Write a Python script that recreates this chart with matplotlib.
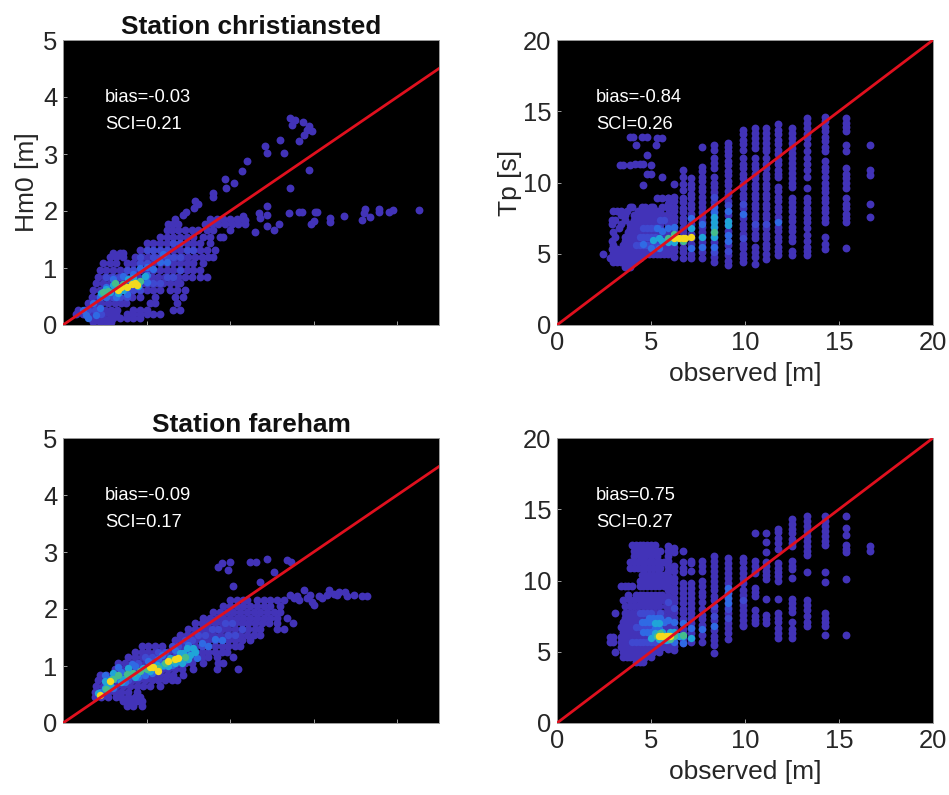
import matplotlib
matplotlib.use("Agg")
import matplotlib.pyplot as plt

plt.rcParams['font.family'] = ['Liberation Sans', 'DejaVu Sans']

BASE = '#4233b8'
MID = '#3f48d0'
BLUE = '#2f6ae4'
CYAN = '#1fa5d8'
GREEN = '#45bd8c'
YELLOW = '#f4d91e'

# --- Hm0 christiansted: rows of points (y, list of x)
hs1_rows_y = [0.06, 0.12, 0.19, 0.26, 0.38, 0.50, 0.61, 0.73, 0.85, 0.96, 1.08, 1.20, 1.27, 1.32, 1.43, 1.55, 1.67, 1.78, 1.86]
hs1_rows_x = [
    [0.36, 0.44, 0.52, 0.58],
    [0.32, 0.40, 0.48, 0.56, 0.60, 0.68, 0.76, 0.84, 0.92],
    [0.16, 0.24, 0.32, 0.40, 0.48, 0.56, 0.64, 0.76, 0.84, 0.92, 1.00, 1.08, 1.16],
    [0.18, 0.26, 0.34, 0.42, 0.50, 0.58, 0.65, 0.84, 0.92, 1.00, 1.32, 1.40],
    [0.30, 0.38, 0.46, 0.54, 0.62, 0.70, 0.75, 1.04, 1.10, 1.36],
    [0.35, 0.43, 0.51, 0.59, 0.67, 0.75, 0.83, 0.92, 1.10, 1.34, 1.44],
    [0.36, 0.44, 0.52, 0.60, 0.68, 0.76, 0.84, 0.92, 1.00, 1.08, 1.16, 1.28, 1.36, 1.46],
    [0.40, 0.48, 0.56, 0.64, 0.72, 0.80, 0.88, 0.96, 1.04, 1.12, 1.20, 1.28, 1.36, 1.40],
    [0.42, 0.50, 0.58, 0.66, 0.74, 0.82, 0.90, 0.98, 1.06, 1.14, 1.22, 1.30, 1.38, 1.46, 1.54, 1.64, 1.72],
    [0.44, 0.52, 0.60, 0.68, 0.76, 0.84, 0.92, 1.00, 1.08, 1.16, 1.24, 1.32, 1.40, 1.48, 1.56, 1.64],
    [0.48, 0.56, 0.64, 0.76, 0.84, 0.92, 1.00, 1.08, 1.16, 1.24, 1.32, 1.40, 1.48, 1.56, 1.68],
    [0.56, 0.64, 0.72, 0.86, 0.94, 1.02, 1.10, 1.18, 1.26, 1.34, 1.42, 1.50, 1.58, 1.66, 1.74, 1.80],
    [0.60, 0.68, 0.72],
    [0.92, 1.00, 1.08, 1.16, 1.24, 1.32, 1.40, 1.48, 1.56, 1.64, 1.72, 1.82],
    [1.00, 1.08, 1.16, 1.24, 1.32, 1.40, 1.48, 1.56, 1.64, 1.76],
    [1.16, 1.24, 1.32, 1.40, 1.48, 1.56, 1.68, 1.76, 1.88, 1.92],
    [1.24, 1.30, 1.38, 1.46, 1.54, 1.62, 1.72, 1.80, 2.00],
    [1.26, 1.32, 1.38, 1.70, 1.78, 1.86, 1.94, 2.02, 2.10, 2.18],
    [1.34, 1.76, 1.84, 1.92, 2.00, 2.08, 2.16],
]
hs1_scatter_x = [2.72, 2.78, 2.87, 2.94, 2.92, 2.98, 2.88, 2.74, 2.82, 2.60, 2.42, 2.44, 2.65, 2.20, 2.14, 2.94, 1.94, 2.05, 1.95, 2.72, 1.80, 1.80, 1.58, 1.62, 1.57, 1.47, 1.44,
                 4.26, 3.95, 3.90, 3.78, 3.78, 3.61, 3.60, 3.68, 3.58, 3.36, 3.20, 3.20, 3.04, 3.02, 3.00, 2.97, 2.86, 2.83, 2.70, 2.44, 2.44, 2.34, 2.36, 2.44, 2.58, 2.52, 2.30, 2.16, 2.18]
hs1_scatter_y = [3.63, 3.60, 3.57, 3.49, 3.42, 3.40, 3.33, 3.51, 3.22, 3.24, 3.14, 3.01, 3.01, 2.87, 2.71, 2.72, 2.57, 2.49, 2.41, 2.40, 2.32, 2.25, 2.18, 2.12, 2.05, 1.98, 1.93,
                 2.01, 2.01, 1.98, 2.03, 1.98, 2.03, 1.96, 1.90, 1.84, 1.92, 1.88, 1.80, 1.99, 1.98, 1.82, 1.78, 1.98, 1.98, 1.96, 2.09, 1.93, 1.96, 1.87, 1.73, 1.77, 1.66, 1.63, 1.91, 1.84]
hs1_mid_x = [0.44, 0.52, 0.60, 0.68, 0.76, 0.84, 0.92, 1.00, 1.08, 1.16, 1.24, 1.32, 1.40, 0.52, 0.60, 0.68, 0.76, 0.84, 0.92, 1.00, 1.08, 1.16, 1.24, 1.32, 1.40, 1.48, 1.56, 0.92, 1.00, 1.08, 1.16, 1.24, 1.32, 1.40, 0.30, 0.38, 0.46]
hs1_mid_y = [0.50, 0.50, 0.50, 0.50, 0.50, 0.61, 0.61, 0.73, 0.73, 0.73, 0.85, 0.85, 0.96, 0.85, 0.85, 0.85, 0.96, 0.96, 1.08, 1.08, 1.20, 1.20, 1.20, 1.20, 1.20, 1.32, 1.32, 1.20, 1.32, 1.32, 1.32, 1.32, 1.43, 1.43, 0.26, 0.26, 0.19]
hs1_blue_x = [0.30, 0.36, 0.44, 0.44, 0.52, 0.60, 0.64, 0.72, 0.76, 0.84, 0.92, 1.00, 1.00, 1.08, 1.16, 1.24, 0.40, 0.28, 0.24, 0.52, 0.92, 1.00, 1.20]
hs1_blue_y = [0.12, 0.38, 0.30, 0.50, 0.50, 0.80, 0.50, 0.86, 0.55, 0.90, 0.78, 0.88, 1.02, 0.98, 1.10, 1.10, 0.18, 0.18, 0.26, 0.66, 1.00, 0.75, 1.25]
hs1_cyan_x = [0.46, 0.52, 0.56, 0.60, 0.66, 0.72, 0.78, 0.84, 0.90, 0.98]
hs1_cyan_y = [0.56, 0.64, 0.58, 0.70, 0.56, 0.62, 0.80, 0.82, 0.68, 0.86]
hs1_green_x = [0.48, 0.54, 0.62, 0.72, 0.86, 0.92]
hs1_green_y = [0.58, 0.60, 0.74, 0.72, 0.74, 0.78]
hs1_yellow_x = [0.66, 0.70, 0.76, 0.82, 0.86, 0.88]
hs1_yellow_y = [0.62, 0.66, 0.66, 0.72, 0.74, 0.70]

# --- Hm0 fareham
hs2_rows_y = [0.30, 0.38, 0.46, 0.55, 0.65, 0.75, 0.85, 0.95, 1.05, 1.15, 1.25, 1.35, 1.45, 1.55, 1.65, 1.75, 1.85, 1.95, 2.05, 2.15]
hs2_rows_x = [
    [0.76, 0.84, 0.94],
    [0.72, 0.80, 0.88, 0.94],
    [0.38, 0.46, 0.54, 0.64, 0.70, 0.78, 0.86, 0.92],
    [0.38, 0.46, 0.54, 0.62, 0.70, 0.78, 0.88],
    [0.40, 0.48, 0.56, 0.64, 0.72, 0.80, 0.88, 0.96, 1.04, 1.16],
    [0.42, 0.50, 0.58, 0.66, 0.74, 0.82, 0.90, 0.98, 1.06, 1.14, 1.22, 1.30, 1.36],
    [0.44, 0.52, 0.60, 0.68, 0.76, 0.84, 0.92, 1.00, 1.08, 1.16, 1.24, 1.32, 1.44],
    [0.62, 0.70, 0.78, 0.86, 0.94, 1.02, 1.10, 1.18, 1.26, 1.34, 1.42, 1.56, 1.84, 2.10],
    [0.66, 0.74, 0.82, 0.90, 0.98, 1.06, 1.14, 1.22, 1.30, 1.38, 1.46, 1.54, 1.68, 1.85, 1.92],
    [0.78, 0.86, 0.94, 1.02, 1.10, 1.18, 1.26, 1.34, 1.42, 1.50, 1.58, 1.66, 1.74, 1.84, 2.04],
    [0.86, 0.94, 1.02, 1.10, 1.18, 1.26, 1.34, 1.42, 1.50, 1.58, 1.66, 1.74, 1.82, 1.90, 1.96],
    [0.94, 1.02, 1.10, 1.18, 1.34, 1.42, 1.50, 1.58, 1.66, 1.74, 1.82, 1.90, 1.98, 2.06, 2.12],
    [1.34, 1.42, 1.50, 1.58, 1.66, 1.74, 1.82, 1.90, 1.98, 2.06, 2.14, 2.24],
    [1.40, 1.48, 1.56, 1.64, 1.72, 1.80, 1.88, 1.96, 2.04, 2.12, 2.20, 2.28, 2.36],
    [1.50, 1.58, 1.66, 1.74, 1.82, 1.90, 1.98, 2.06, 2.14, 2.22, 2.30, 2.36, 2.56, 2.64],
    [1.58, 1.66, 1.74, 1.82, 1.90, 1.98, 2.06, 2.14, 2.22, 2.30, 2.38, 2.46, 2.56, 2.75],
    [1.68, 1.76, 1.84, 1.92, 2.00, 2.08, 2.16, 2.24, 2.32, 2.40, 2.48, 2.56, 2.68],
    [1.80, 1.88, 1.96, 2.04, 2.12, 2.20, 2.28, 2.36, 2.44, 2.52, 2.60],
    [1.92, 2.00, 2.08, 2.16, 2.24, 2.32, 2.40, 2.48, 2.60],
    [2.00, 2.08, 2.16, 2.20, 2.32, 2.40, 2.48, 2.56, 2.64],
]
hs2_scatter_x = [1.86, 1.90, 2.00, 1.98, 2.24, 2.31, 2.44, 2.52, 2.68, 2.73, 2.36, 2.04, 2.72, 2.76, 2.82, 2.88, 2.92, 3.00, 2.98, 3.06, 3.18, 3.16, 3.30, 3.28, 3.38, 3.40, 3.48, 3.58, 3.64, 2.80, 2.96, 3.10, 3.24]
hs2_scatter_y = [2.74, 2.80, 2.82, 2.68, 2.82, 2.83, 2.87, 2.65, 2.86, 2.83, 2.48, 2.40, 2.25, 2.19, 2.16, 2.33, 2.19, 2.07, 2.13, 2.22, 2.33, 2.25, 2.30, 2.25, 2.30, 2.22, 2.25, 2.22, 2.23, 2.22, 2.24, 2.20, 2.26]
hs2_mid_x = [0.70, 0.78, 0.86, 0.94, 1.02, 1.10, 1.18, 1.26, 1.34, 1.42, 1.50, 1.58, 1.66, 1.74, 1.82, 1.90, 1.98, 2.06, 2.14, 0.90, 0.98, 1.06, 1.14, 1.22, 1.30, 1.38, 1.46, 1.54, 1.62, 1.70, 1.78, 1.86, 1.94, 2.02]
hs2_mid_y = [0.75, 0.75, 0.85, 0.85, 0.95, 0.95, 1.05, 1.05, 1.15, 1.15, 1.25, 1.25, 1.35, 1.35, 1.45, 1.45, 1.55, 1.55, 1.65, 1.05, 1.15, 1.15, 1.25, 1.25, 1.35, 1.35, 1.45, 1.45, 1.55, 1.55, 1.65, 1.65, 1.75, 1.75]
hs2_blue_x = [0.44, 0.52, 0.60, 0.70, 0.78, 0.86, 0.94, 1.02, 1.10, 1.18, 1.26, 1.34, 1.42, 1.50, 1.58, 1.66, 1.74, 1.82, 1.90, 0.50, 0.62, 0.74, 0.90, 1.06, 1.20, 1.30, 1.46, 1.60, 0.66, 0.82, 0.98, 1.14]
hs2_blue_y = [0.55, 0.72, 0.62, 0.90, 0.82, 1.00, 0.94, 1.08, 1.00, 1.20, 1.08, 1.28, 1.18, 1.36, 1.26, 1.40, 1.35, 1.48, 1.45, 0.84, 0.78, 0.72, 0.80, 0.88, 1.00, 1.02, 1.10, 1.14, 0.98, 1.04, 0.84, 1.12]
hs2_cyan_x = [0.42, 0.50, 0.56, 0.64, 0.72, 0.80, 0.88, 0.96, 1.04, 1.12, 1.20, 1.28, 1.36, 1.44, 1.52, 1.58, 0.60, 0.70, 1.26, 1.34, 1.42, 1.50, 1.56, 1.48, 1.40, 0.50, 0.58, 0.78, 0.86]
hs2_cyan_y = [0.52, 0.62, 0.66, 0.82, 0.78, 0.88, 0.86, 0.96, 0.92, 1.02, 1.02, 1.14, 1.12, 1.22, 1.20, 1.24, 0.88, 0.72, 1.00, 1.06, 1.06, 1.12, 1.32, 1.32, 1.22, 0.74, 0.78, 0.96, 0.80]
hs2_green_x = [0.52, 0.66, 0.76, 0.92, 1.00, 1.14, 1.22, 1.30, 1.38, 1.46, 0.60, 0.84]
hs2_green_y = [0.60, 0.84, 0.86, 0.92, 0.94, 0.96, 1.06, 1.10, 1.14, 1.16, 0.78, 0.88]
hs2_yellow_x = [0.44, 0.56, 1.04, 1.08, 1.14, 1.26, 1.34, 1.38]
hs2_yellow_y = [0.49, 0.74, 0.98, 0.99, 0.92, 1.08, 1.12, 1.14]

# --- Tp christiansted: vertical strips
tp1_cols_x = [5.89, 6.24, 6.68, 7.15, 7.70, 8.33, 9.08, 9.88, 10.53, 11.10, 11.76, 12.48, 13.32, 14.27, 15.37, 16.65]
tp1_cols_y = [
    [8.9, 8.5, 8.2, 7.8, 7.5, 7.1, 6.8, 6.4, 6.1, 5.7, 5.4, 5.0],
    [9.9, 9.0, 8.7, 8.3, 8.0, 7.6, 7.3, 6.9, 6.6, 6.2, 5.9, 5.5, 5.2, 4.8],
    [10.9, 10.4, 9.9, 9.5, 8.9, 8.6, 8.2, 7.9, 7.5, 7.2, 6.8, 6.5, 6.1, 5.8, 5.4, 5.1, 4.7],
    [10.3, 9.9, 9.6, 9.2, 8.9, 8.5, 8.2, 7.8, 7.5, 7.1, 6.8, 6.4, 6.1, 5.7, 5.4, 5.0, 4.7],
    [12.5, 11.1, 10.8, 10.4, 10.1, 9.7, 9.4, 9.0, 8.6, 8.3, 7.9, 7.6, 7.2, 6.9, 6.5, 6.2, 5.8, 5.5, 5.1, 4.7],
    [12.6, 12.3, 11.7, 11.4, 11.0, 10.4, 10.0, 9.7, 9.3, 9.0, 8.6, 8.3, 7.9, 7.6, 7.2, 6.9, 6.5, 6.2, 5.8, 5.5, 5.1, 4.8, 4.4],
    [12.8, 12.5, 12.2, 11.9, 11.5, 11.2, 10.8, 10.5, 10.1, 9.8, 9.4, 9.1, 8.7, 8.4, 8.0, 7.7, 7.3, 7.0, 6.6, 6.3, 5.9, 5.6, 5.2, 4.9, 4.5, 4.2],
    [13.7, 13.4, 13.0, 12.7, 12.3, 11.7, 11.3, 11.0, 10.6, 10.3, 9.9, 9.6, 9.2, 8.9, 8.5, 8.2, 7.8, 7.5, 7.1, 6.8, 6.4, 6.1, 5.7, 5.4, 5.0, 4.7, 4.4],
    [13.8, 13.5, 13.1, 12.8, 12.4, 11.7, 11.3, 11.0, 10.6, 10.3, 9.9, 9.6, 9.2, 8.9, 8.5, 8.2, 7.8, 7.5, 7.1, 6.8, 6.4, 6.1, 5.5, 5.1, 4.8, 4.3],
    [13.8, 13.5, 13.1, 12.8, 12.4, 12.2, 11.7, 11.3, 11.0, 10.6, 10.3, 9.9, 9.6, 9.2, 8.9, 8.5, 8.2, 7.8, 7.5, 7.1, 6.8, 6.4, 6.1, 5.7, 5.4, 5.0, 4.6],
    [14.1, 13.7, 13.4, 13.0, 12.7, 12.3, 12.0, 11.6, 11.3, 10.9, 10.6, 10.4, 9.7, 9.4, 9.0, 8.7, 8.3, 8.0, 7.6, 7.3, 6.9, 6.6, 6.2, 5.9, 5.5, 5.2, 4.9],
    [13.8, 13.5, 13.1, 12.8, 12.4, 12.1, 11.7, 11.4, 11.0, 10.7, 10.3, 10.0, 9.7, 8.9, 8.6, 8.3, 8.0, 7.6, 7.3, 6.9, 6.6, 6.2, 5.9, 5.2, 4.9],
    [14.5, 14.2, 13.8, 13.4, 13.1, 12.7, 12.2, 11.7, 11.3, 10.9, 10.4, 9.6, 8.9, 8.6, 8.2, 7.9, 7.5, 7.2, 6.8, 6.3, 5.9, 5.5, 5.2, 4.9],
    [14.6, 14.3, 13.9, 13.6, 13.2, 12.9, 12.5, 12.2, 11.5, 11.1, 10.8, 10.4, 10.0, 9.6, 9.3, 8.9, 8.6, 8.2, 7.9, 7.5, 7.2, 6.2, 5.7, 5.3],
    [14.5, 14.2, 13.9, 13.6, 12.6, 12.2, 11.0, 10.6, 10.3, 10.0, 9.6, 8.9, 8.5, 8.2, 7.8, 7.5, 7.2, 5.4],
    [12.6, 10.9, 10.5, 8.5, 7.6],
]
tp1_rows_y = [4.1, 4.4, 4.7, 5.0, 5.3, 5.6, 5.9, 6.2, 6.5, 6.8, 7.1, 7.4, 7.7, 8.0, 8.3]
tp1_rows_x = [
    [3.6, 3.8, 3.9],
    [3.0, 3.2, 3.4, 3.6, 3.8, 4.0, 4.1],
    [2.8, 3.2, 3.4, 3.6, 3.8, 4.0, 4.2, 4.4],
    [2.46, 3.0, 3.3, 3.5, 3.7, 3.9, 4.1, 4.3, 4.5, 4.7, 4.9, 5.1, 5.3, 5.5, 5.7],
    [2.9, 3.2, 3.5, 3.7, 3.9, 4.1, 4.3, 4.5, 4.7, 4.9, 5.1, 5.3, 5.5, 5.7],
    [3.0, 3.5, 3.7, 3.9, 4.1, 4.3, 4.5, 4.7, 4.9, 5.1, 5.3, 5.5, 5.7],
    [2.9, 3.6, 3.8, 4.0, 4.2, 4.4, 4.6, 4.8, 5.0, 5.2, 5.4, 5.6],
    [3.1, 3.6, 3.8, 4.0, 4.2, 4.4, 4.6, 4.8, 5.0, 5.2, 5.4, 5.6],
    [3.0, 3.8, 4.0, 4.2, 4.4, 4.6, 4.8, 5.0, 5.2, 5.4, 5.6],
    [3.3, 3.9, 4.1, 4.3, 4.5, 4.7, 4.9, 5.1, 5.3, 5.5],
    [2.9, 3.4, 3.9, 4.1, 4.3, 4.5, 4.7, 4.9, 5.1, 5.3, 5.5],
    [2.9, 3.1, 3.6, 4.1, 4.3, 4.5, 4.7, 4.9, 5.1, 5.3, 5.5],
    [3.4, 3.6, 4.1, 4.4, 4.6, 4.8, 5.0, 5.2, 5.4, 5.6],
    [3.0, 3.2, 3.4, 3.7, 4.3, 4.6, 4.8, 5.0, 5.3, 5.5],
    [3.9, 4.0, 4.5, 4.7, 5.0, 5.1, 5.6],
]
tp1_scatter_x = [3.88, 4.06, 4.54, 4.77, 5.30, 5.57, 5.27, 4.18, 4.77, 3.35, 3.53, 3.88, 4.15, 4.41, 4.60, 5.00, 5.00, 4.77, 5.57, 4.56, 5.30, 5.60, 5.90]
tp1_scatter_y = [13.2, 13.2, 13.2, 13.2, 13.1, 13.1, 12.6, 12.6, 11.9, 11.2, 11.2, 11.2, 11.3, 11.3, 11.3, 11.2, 10.6, 10.6, 10.4, 9.8, 8.9, 8.9, 8.9]
tp1_mid_x = [4.2, 4.4, 4.6, 4.8, 5.0, 5.2, 5.4, 4.4, 4.6, 4.8, 5.0, 5.2, 4.6, 4.8, 5.0, 5.2, 5.4, 5.5, 5.7, 8.33, 8.33, 9.08, 9.08, 9.88, 9.88, 10.53, 11.10]
tp1_mid_y = [5.6, 5.6, 5.6, 5.6, 5.6, 5.6, 5.6, 6.2, 6.2, 6.2, 6.2, 6.2, 6.8, 6.8, 6.8, 6.8, 6.8, 7.4, 7.4, 9.0, 5.1, 8.4, 5.2, 8.5, 6.1, 7.1, 7.1]
tp1_blue_x = [4.6, 5.0, 5.4, 5.3, 5.6, 5.9, 6.2, 7.15, 7.15, 7.70, 7.70, 8.33, 8.33, 8.33, 9.08, 9.08, 9.08, 9.88, 11.76]
tp1_blue_y = [5.7, 5.4, 5.4, 6.8, 6.6, 6.8, 6.9, 7.5, 5.4, 7.1, 5.5, 8.3, 7.9, 5.5, 8.0, 6.3, 5.9, 7.8, 7.2]
tp1_cyan_x = [5.1, 5.4, 5.6, 5.9, 6.2, 7.70, 8.33, 8.33, 8.33, 8.33, 9.08, 9.08, 7.15]
tp1_cyan_y = [6.0, 6.1, 5.9, 5.8, 5.8, 6.2, 7.6, 7.2, 6.9, 6.2, 7.3, 7.0, 6.8]
tp1_green_x = [5.9, 6.24, 6.68, 8.33]
tp1_green_y = [6.1, 6.4, 5.9, 6.5]
tp1_yellow_x = [6.24, 6.5, 6.68, 6.8, 7.15]
tp1_yellow_y = [6.1, 6.1, 6.1, 6.1, 6.2]

# --- Tp fareham
tp2_cols_x = [5.89, 6.24, 6.68, 7.15, 7.70, 8.33, 9.08, 9.88, 10.53, 11.10, 11.76, 12.48, 13.32, 14.27, 15.37, 16.65]
tp2_cols_y = [
    [12.4, 12.1, 11.7, 11.4, 11.0, 10.7, 10.3, 10.0, 9.6, 9.3, 8.9, 8.6, 8.2, 7.9, 7.5, 7.2, 6.8, 6.5, 6.1, 5.8, 5.5, 5.2],
    [12.3, 12.0, 11.0, 10.7, 10.2, 9.9, 9.5, 9.2, 8.8, 8.5, 8.1, 7.8, 7.4, 7.1, 6.7, 6.4, 6.0, 5.7, 5.4, 5.1],
    [12.1, 11.3, 10.9, 10.6, 9.8, 9.5, 9.1, 8.8, 8.4, 8.0, 7.7, 7.3, 7.0, 6.6, 6.3, 5.9, 5.6],
    [11.4, 11.2, 10.7, 9.8, 9.5, 9.1, 8.8, 8.4, 8.1, 7.7, 7.4, 7.0, 6.7, 6.3, 6.0, 5.7],
    [11.4, 11.0, 10.7, 10.0, 9.6, 9.2, 8.9, 8.5, 8.0, 7.6, 7.3, 6.9, 6.6, 6.2, 5.7],
    [11.7, 11.4, 11.0, 10.7, 10.3, 10.0, 9.6, 9.3, 8.9, 8.6, 8.2, 7.9, 7.5, 7.2, 6.8, 6.5, 6.1, 5.8, 5.5, 4.9],
    [11.6, 11.2, 10.9, 10.5, 10.2, 9.8, 9.5, 9.1, 8.8, 8.4, 8.1, 7.7, 7.4, 7.0, 6.7, 6.3, 5.9],
    [11.6, 11.3, 10.9, 10.5, 10.2, 9.8, 9.3, 9.0, 8.6, 8.3, 7.9, 7.6, 7.2, 6.9, 6.8],
    [13.3, 11.4, 11.0, 10.7, 10.5, 9.5, 9.2, 8.9, 7.9, 7.5, 7.2, 7.0],
    [13.3, 12.7, 12.0, 11.3, 11.0, 10.7, 10.4, 10.1, 8.7, 7.6, 7.3, 7.0],
    [13.6, 13.4, 13.0, 12.6, 12.2, 11.2, 10.9, 10.6, 10.3, 10.0, 8.7, 7.7, 7.4, 7.1, 6.7, 6.3, 6.0],
    [14.3, 14.0, 13.6, 13.3, 12.9, 12.6, 12.4, 11.4, 11.0, 10.8, 10.2, 8.7, 8.4, 8.1, 7.8, 7.1, 6.6, 6.3, 6.0],
    [14.5, 14.2, 13.8, 13.5, 13.1, 12.8, 12.4, 12.1, 11.8, 10.6, 8.6, 8.3, 7.9, 7.5, 7.1, 6.8],
    [14.5, 14.2, 13.8, 13.5, 13.1, 12.8, 12.5, 10.6, 9.9, 7.7, 7.4, 7.1, 6.8, 6.2],
    [14.5, 13.7, 13.2, 12.5, 12.2, 12.0, 10.1, 6.2],
    [12.4, 12.1],
]
tp2_rows_y = [4.3, 4.65, 5.0, 5.35, 5.7, 6.05, 6.4, 6.75, 7.1, 7.4, 7.7, 8.2, 8.6, 9.0, 9.6, 10.0, 10.4, 10.85, 11.3, 11.7, 12.1, 12.5]
tp2_rows_x = [
    [4.2, 4.4, 4.6],
    [3.5, 3.7, 3.9, 4.1, 4.3, 4.5, 4.7, 5.0],
    [3.1, 3.5, 3.7, 3.9, 4.1, 4.3, 4.5, 4.7, 4.9, 5.1, 5.4],
    [3.4, 3.6, 3.8, 4.0, 4.2, 4.4, 4.6, 4.8, 5.0, 5.2, 5.4, 5.6, 5.8],
    [2.8, 3.0, 3.4, 3.6, 3.8, 4.0, 4.2, 4.4, 4.6, 4.8, 5.0, 5.2, 5.4, 5.6, 5.8],
    [2.8, 3.0, 3.4, 3.7, 3.9, 4.1, 4.3, 4.5, 4.7, 4.9, 5.1, 5.3, 5.5, 5.7],
    [3.5, 3.7, 3.9, 4.1, 4.3, 4.5, 4.7, 4.9, 5.1, 5.3, 5.5, 5.7],
    [3.4, 3.6, 3.8, 4.0, 4.2, 4.4, 4.6, 4.8, 5.0, 5.2, 5.4, 5.6, 5.8],
    [3.5, 3.7, 3.9, 4.1, 4.3, 4.5, 4.7, 4.9, 5.1, 5.3, 5.5, 5.7],
    [3.6, 3.8, 4.0, 4.2, 4.4, 4.6, 4.8, 5.0, 5.2, 5.4, 5.6, 5.8],
    [3.1, 3.6, 3.8, 4.0, 4.2, 4.4, 4.6, 4.8, 5.0, 5.2, 5.4, 5.6],
    [3.6, 3.9, 4.1, 4.3, 4.6, 4.8, 5.0, 5.2, 5.4, 5.8],
    [3.5, 3.9, 4.1, 4.4, 4.7, 4.9, 5.1, 5.3, 5.5, 5.7],
    [3.8, 4.2, 4.4, 4.6, 4.8, 5.0, 5.2, 5.4, 5.6],
    [3.4, 3.6, 3.8, 4.0, 4.4, 4.6, 4.8, 5.0, 5.2, 5.4, 5.7],
    [4.4, 4.6, 4.8, 5.0, 5.2, 5.4, 5.7],
    [4.5, 4.7, 4.9, 5.1, 5.3, 5.5, 5.7],
    [3.9, 4.1, 4.3, 4.5, 4.7, 4.9, 5.1, 5.3, 5.5],
    [3.9, 4.1, 4.3, 4.5, 4.7, 4.9, 5.1, 5.3, 5.5, 5.7],
    [4.1, 4.4, 4.7, 5.0, 5.3],
    [4.1, 4.3, 4.5, 4.7, 4.9, 5.1, 5.3, 5.5],
    [4.0, 4.2, 4.4, 4.6, 4.8, 5.0, 5.2],
]
tp2_mid_x = [4.0, 4.2, 4.4, 4.6, 4.8, 5.0, 5.2, 5.4, 4.2, 4.4, 4.6, 4.8, 5.0, 5.2, 4.4, 4.6, 4.8, 5.0, 5.5, 8.33, 8.33, 9.08, 9.08, 9.88, 5.89, 6.24]
tp2_mid_y = [5.7, 5.7, 5.7, 5.7, 5.7, 5.7, 5.7, 5.7, 6.75, 6.75, 6.75, 6.75, 6.75, 6.75, 7.7, 7.7, 7.7, 7.7, 7.7, 8.2, 7.5, 8.0, 7.4, 8.6, 8.5, 8.1]
tp2_blue_x = [4.5, 4.7, 4.9, 5.1, 5.3, 5.5, 5.7, 4.9, 5.1, 5.3, 5.5, 5.89, 5.89, 6.24, 6.24, 6.68, 6.68, 7.15, 7.70, 8.33, 9.08, 9.08, 9.08, 9.08, 4.6, 4.8, 5.0, 5.2, 5.4]
tp2_blue_y = [7.1, 7.1, 7.1, 7.1, 7.1, 7.1, 7.1, 7.4, 7.4, 7.4, 7.4, 7.2, 5.8, 7.1, 5.7, 7.0, 5.6, 6.7, 6.6, 6.8, 9.5, 9.1, 8.8, 8.4, 6.4, 6.4, 6.4, 6.7, 6.7]
tp2_cyan_x = [5.0, 5.2, 5.4, 5.6, 5.8, 6.0, 6.24, 6.5, 6.68, 7.15, 5.2, 5.4]
tp2_cyan_y = [6.0, 6.3, 5.9, 6.4, 5.8, 6.4, 6.4, 6.1, 6.1, 6.0, 7.0, 7.0]
tp2_green_x = [5.3, 5.5, 6.0, 6.24, 6.68]
tp2_green_y = [6.1, 6.3, 5.9, 6.1, 6.2]
tp2_yellow_x = [5.4, 5.6, 5.8, 5.9, 6.0]
tp2_yellow_y = [6.1, 6.1, 6.1, 6.1, 6.1]

bias_labels = ['bias=-0.03', 'bias=-0.84', 'bias=-0.09', 'bias=0.75']
sci_labels = ['SCI=0.21', 'SCI=0.26', 'SCI=0.17', 'SCI=0.27']
titles = ['Station christiansted', None, 'Station fareham', None]
label_x = [0.112, 0.104, 0.112, 0.104]


def rows_to_xy(rows_y, rows_x):
    xs, ys = [], []
    for y, row in zip(rows_y, rows_x):
        xs += row
        ys += [y] * len(row)
    return xs, ys


def cols_to_xy(cols_x, cols_y):
    xs, ys = [], []
    for x, col in zip(cols_x, cols_y):
        xs += [x] * len(col)
        ys += col
    return xs, ys


def draw_panel(ax, base, hot, lim, ylim, yticks):
    ax.set_facecolor('black')
    ax.scatter(base[0], base[1], s=32, color=BASE, linewidths=0, zorder=2)
    for (hx, hy), col in zip(hot, [MID, BLUE, CYAN, GREEN, YELLOW]):
        ax.scatter(hx, hy, s=28, color=col, linewidths=0, zorder=3)
    ax.plot([0, lim], [0, lim], color='#e0101e', lw=2.0, zorder=4)
    ax.set_xlim(0, lim)
    ax.set_ylim(0, ylim)
    ax.set_yticks(yticks)
    ax.tick_params(direction='in', length=3, width=0.6, color='#bbbbbb', labelsize=18.4, labelcolor='#262626', pad=4)
    for s in ax.spines.values():
        s.set_color('#9a9a9a')
        s.set_linewidth(0.7)


W, H = 949, 795
fig = plt.figure(figsize=(W / 100, H / 100), dpi=100)
boxes = [(63, 40), (557, 40), (63, 438), (557, 438)]
axes = [fig.add_axes([l / W, 1 - (t + 285) / H, 376 / W, 285 / H]) for l, t in boxes]

hs1 = rows_to_xy(hs1_rows_y, hs1_rows_x)
draw_panel(axes[0], (hs1[0] + hs1_scatter_x, hs1[1] + hs1_scatter_y),
           [(hs1_mid_x, hs1_mid_y), (hs1_blue_x, hs1_blue_y), (hs1_cyan_x, hs1_cyan_y), (hs1_green_x, hs1_green_y), (hs1_yellow_x, hs1_yellow_y)],
           4.5, 5, [0, 1, 2, 3, 4, 5])
hs2 = rows_to_xy(hs2_rows_y, hs2_rows_x)
draw_panel(axes[2], (hs2[0] + hs2_scatter_x, hs2[1] + hs2_scatter_y),
           [(hs2_mid_x, hs2_mid_y), (hs2_blue_x, hs2_blue_y), (hs2_cyan_x, hs2_cyan_y), (hs2_green_x, hs2_green_y), (hs2_yellow_x, hs2_yellow_y)],
           4.5, 5, [0, 1, 2, 3, 4, 5])

tc1 = cols_to_xy(tp1_cols_x, tp1_cols_y)
tb1 = rows_to_xy(tp1_rows_y, tp1_rows_x)
draw_panel(axes[1], (tc1[0] + tb1[0] + tp1_scatter_x, tc1[1] + tb1[1] + tp1_scatter_y),
           [(tp1_mid_x, tp1_mid_y), (tp1_blue_x, tp1_blue_y), (tp1_cyan_x, tp1_cyan_y), (tp1_green_x, tp1_green_y), (tp1_yellow_x, tp1_yellow_y)],
           20, 20, [0, 5, 10, 15, 20])
tc2 = cols_to_xy(tp2_cols_x, tp2_cols_y)
tb2 = rows_to_xy(tp2_rows_y, tp2_rows_x)
draw_panel(axes[3], (tc2[0] + tb2[0], tc2[1] + tb2[1]),
           [(tp2_mid_x, tp2_mid_y), (tp2_blue_x, tp2_blue_y), (tp2_cyan_x, tp2_cyan_y), (tp2_green_x, tp2_green_y), (tp2_yellow_x, tp2_yellow_y)],
           20, 20, [0, 5, 10, 15, 20])

for i, ax in enumerate(axes):
    if i in (0, 2):
        ax.set_xticks([1, 2, 3, 4])
        ax.set_xticklabels([])
    else:
        ax.set_xticks([0, 5, 10, 15, 20])
        ax.set_xlabel('observed [m]', fontsize=19, color='#262626', labelpad=5)
    ax.text(label_x[i], 0.80, bias_labels[i], transform=ax.transAxes, color='white', fontsize=13.2, va='center')
    ax.text(label_x[i], 0.705, sci_labels[i], transform=ax.transAxes, color='white', fontsize=13.2, va='center')
    if titles[i]:
        ax.set_title(titles[i], fontsize=18.9, fontweight='bold', color='#111111', pad=4)

axes[0].set_ylabel('Hm0 [m]', fontsize=19, color='#262626', labelpad=3)
axes[1].set_ylabel('Tp [s]', fontsize=19, color='#262626', labelpad=1)

fig.savefig('out.png', dpi=100)
